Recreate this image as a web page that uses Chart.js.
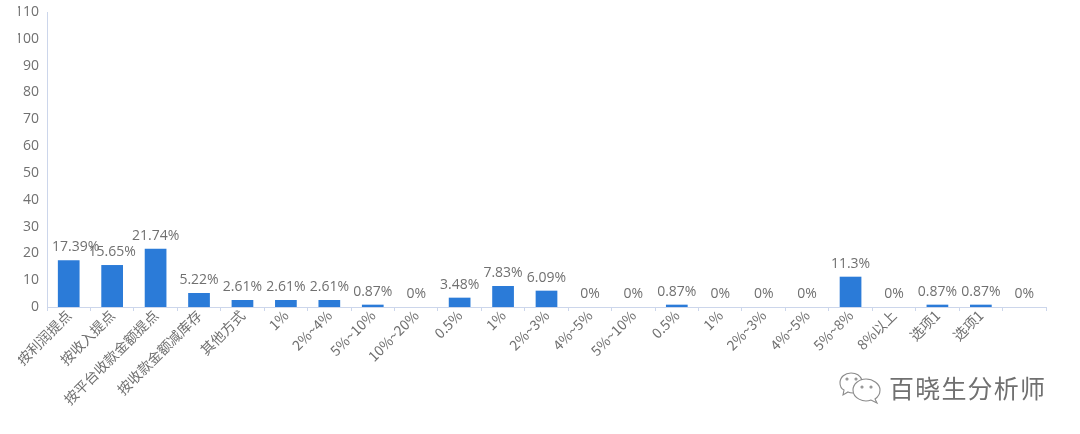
<!DOCTYPE html>
<html>
<head>
<meta charset="utf-8">
<script src="https://cdn.jsdelivr.net/npm/chart.js@4"></script>
<style>
  html, body { margin: 0; padding: 0; background: #fff; width: 1080px; height: 434px; overflow: hidden; }
  /* el canvas empieza en x=18 para que el "110" salga cortado como en el original */
  #wrap { position: absolute; left: 18px; top: 0; width: 1062px; height: 434px; }
  #marca { position: absolute; left: 889px; top: 369px; font: 25px "Noto Sans CJK SC"; letter-spacing: 1.2px; color: #707070; white-space: nowrap; }
  #icono { position: absolute; left: 838px; top: 371px; }
</style>
</head>
<body>
<div id="wrap"><canvas id="grafico"></canvas></div>
<svg id="icono" width="46" height="34" viewBox="0 0 46 34" fill="none" stroke="#8a8a8a" stroke-width="1.1">
  <path d="M24 9C22 4 17 2 13 2C7 2 2 6 2 12C2 15 4 18 6 19L5 24L10 21C12 22 14 22 15 22"/>
  <path d="M28 8C35 8 42 13 42 19C42 23 40 26 37 28L39 32L33 29C25 32 15 27 15 19C15 13 21 8 28 8Z"/>
  <circle cx="9" cy="8" r="1"/><circle cx="18" cy="8" r="1"/>
  <circle cx="24" cy="16" r="1"/><circle cx="33" cy="16" r="1"/>
</svg>
<div id="marca">百晓生分析师</div>

<script>
//Datos
const categorias = ['按利润提点', '按收入提点', '按平台收款金额提点', '按收款金额减库存', '其他方式',
  '1%', '2%~4%', '5%~10%', '10%~20%', '0.5%', '1%', '2%~3%', '4%~5%', '5%~10%',
  '0.5%', '1%', '2%~3%', '4%~5%', '5%~8%', '8%以上', '选项1', '选项1', ''];
const valores = [17.39, 15.65, 21.74, 5.22, 2.61, 2.61, 2.61, 0.87, 0, 3.48, 7.83, 6.09, 0, 0,
  0.87, 0, 0, 0, 11.3, 0, 0.87, 0.87, 0];
const ejeMin = 0;
const ejeMax = 110;
const ejePaso = 10;

const colorEje = '#ccd6eb';
const colorTexto = '#707070';

//Plugin para escribir el porcentaje encima de cada barra
const etiquetas = {
  id: 'etiquetas',
  afterDatasetsDraw(chart) {
    const ctx = chart.ctx;
    const barras = chart.getDatasetMeta(0).data;
    ctx.save();
    ctx.font = '14px "Open Sans"';
    ctx.fillStyle = colorTexto;
    ctx.textAlign = 'center';
    ctx.textBaseline = 'middle';
    barras.forEach((barra, i) => {
      //la primera etiqueta va algo desplazada en el original
      const extra = i === 0 ? 7 : 0;
      ctx.fillText(valores[i] + '%', barra.x + extra, barra.y - 13);
    });
    ctx.restore();
  }
};

new Chart(document.getElementById('grafico'), {
  type: 'bar',
  data: {
    labels: categorias,
    datasets: [{
      data: valores,
      backgroundColor: '#2b7bd8',
      barPercentage: 0.5,
      categoryPercentage: 1
    }]
  },
  options: {
    responsive: true,
    maintainAspectRatio: false,
    animation: false,
    layout: { padding: { top: 12, right: 34, left: 0, bottom: 0 } },
    plugins: { legend: { display: false }, tooltip: { enabled: false } },
    scales: {
      x: {
        grid: { drawOnChartArea: false, color: colorEje, tickLength: 4, offset: true },
        border: { color: colorEje },
        ticks: {
          autoSkip: false,
          maxRotation: 45,
          minRotation: 45,
          padding: -4,
          color: colorTexto,
          font: { family: '"Noto Sans CJK SC"', size: 14 }
        },
        afterFit(escala) { escala.height = 127; }
      },
      y: {
        min: ejeMin,
        max: ejeMax,
        grid: { display: false },
        border: { color: colorEje },
        ticks: {
          stepSize: ejePaso,
          padding: 0,
          color: colorTexto,
          font: { family: '"Open Sans"', size: 14 }
        },
        afterFit(escala) { escala.width = 29; }
      }
    }
  },
  plugins: [etiquetas]
});
</script>
</body>
</html>
